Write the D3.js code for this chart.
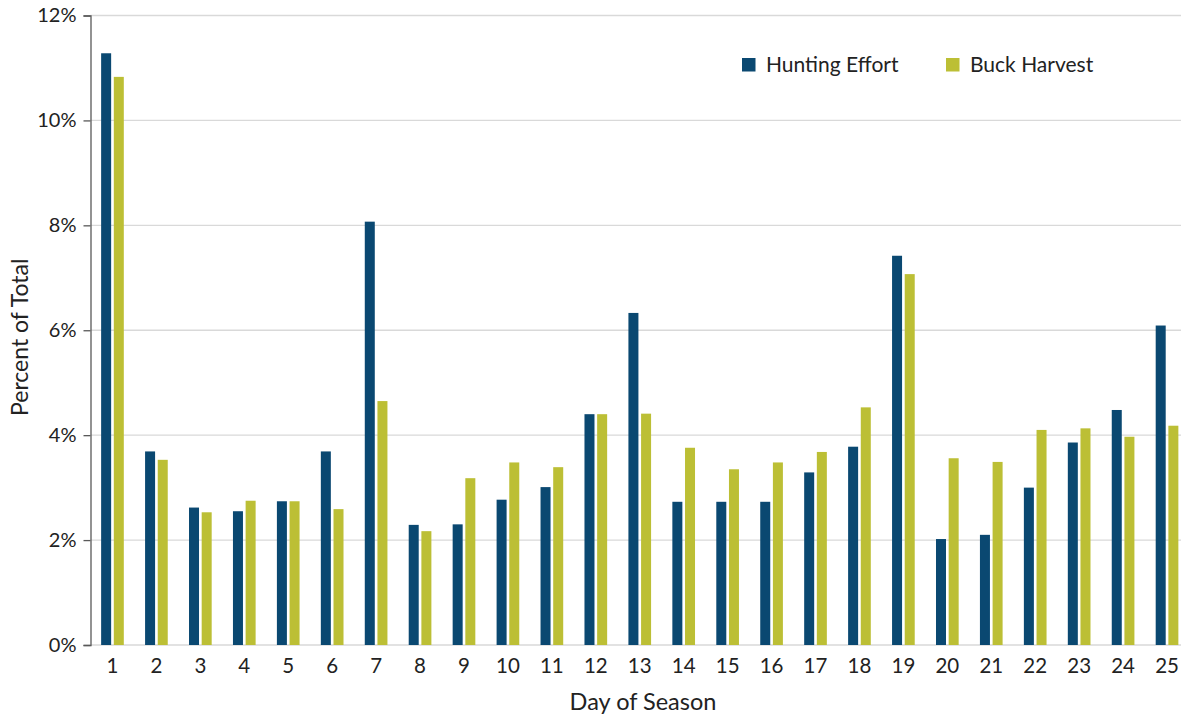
<!DOCTYPE html>
<html>
<head>
<meta charset="utf-8">
<script src="https://cdn.jsdelivr.net/npm/d3@7"></script>
<style>
  body { margin: 0; overflow: hidden; background: #fff; }
  svg { display: block; font-family: Lato, "Open Sans", sans-serif; }
</style>
</head>
<body>
<svg></svg>
<script>
// data (percent of total)
const days = d3.range(1, 26).map(String)
const seriesNames = ['Hunting Effort', 'Buck Harvest']
const huntingEffort = [11.28, 3.69, 2.62, 2.55, 2.74, 3.69, 8.07, 2.29, 2.30, 2.77, 3.01, 4.40, 6.33, 2.73, 2.73, 2.73, 3.29, 3.78, 7.42, 2.02, 2.10, 3.00, 3.86, 4.48, 6.09]
const buckHarvest = [10.83, 3.53, 2.53, 2.75, 2.74, 2.59, 4.65, 2.17, 3.18, 3.48, 3.39, 4.40, 4.41, 3.76, 3.35, 3.48, 3.68, 4.53, 7.07, 3.56, 3.49, 4.10, 4.13, 3.97, 4.18]
const yTicks = [0, 2, 4, 6, 8, 10, 12]

const colors = ['#0a4871', '#bcbf35']

const w = 1181
const h = 716
const plotLeft = 90.5
const plotRight = 1189
const plotTop = 15.5
const plotBottom = 645

const svg = d3.select('svg')
  .attr('width', w)
  .attr('height', h)

const rows = days.map((d, i) => ({ day: d, values: [huntingEffort[i], buckHarvest[i]] }))

// scales
const x0 = d3.scaleBand()
  .domain(days)
  .range([plotLeft, plotRight])

const x1 = d3.scaleBand()
  .domain(seriesNames)
  .range([0, x0.bandwidth()])
  .paddingInner(0.21)
  .paddingOuter(0.84)

const y = d3.scaleLinear()
  .domain([0, 12])
  .range([plotBottom, plotTop])

// gridlines
svg.append('g')
  .selectAll('line')
  .data(yTicks)
  .enter()
  .append('line')
  .attr('x1', plotLeft)
  .attr('x2', w)
  .attr('y1', d => y(d))
  .attr('y2', d => y(d))
  .attr('stroke', '#d9d9d9')
  .attr('stroke-width', 1.3)

// bars
const groups = svg.append('g')
  .selectAll('g')
  .data(rows)
  .enter()
  .append('g')
  .attr('transform', d => `translate(${x0(d.day)},0)`)

groups.selectAll('rect')
  .data(d => d.values.map((v, i) => ({ key: seriesNames[i], value: v, i })))
  .enter()
  .append('rect')
  .attr('x', d => x1(d.key))
  .attr('width', x1.bandwidth())
  .attr('y', d => y(d.value))
  .attr('height', d => y(0) - y(d.value))
  .attr('fill', d => colors[d.i])

// y axis
const yAxis = d3.axisLeft(y)
  .tickValues(yTicks)
  .tickSize(7)
  .tickPadding(7)
  .tickFormat(d => d + '%')

const yG = svg.append('g')
  .attr('transform', `translate(${plotLeft},0)`)
  .call(yAxis)
yG.select('.domain').attr('stroke', '#595959').attr('stroke-width', 1.3)
yG.selectAll('.tick line').attr('stroke', '#595959').attr('stroke-width', 1.3)
yG.selectAll('.tick text')
  .attr('fill', '#222')
  .style('font-size', '20px')
  .style('font-family', 'Lato, "Open Sans", sans-serif')

// x axis
const xAxis = d3.axisBottom(x0)
  .tickSize(0)
  .tickPadding(13)

const xG = svg.append('g')
  .attr('transform', `translate(0,${plotBottom})`)
  .call(xAxis)
xG.select('.domain').remove()
xG.selectAll('.tick text')
  .attr('fill', '#222')
  .style('font-size', '20.5px')
  .style('font-family', 'Lato, "Open Sans", sans-serif')

// axis titles
svg.append('text')
  .attr('text-anchor', 'middle')
  .attr('x', 643)
  .attr('y', 710)
  .attr('fill', '#222')
  .style('font-size', '23.5px')
  .text('Day of Season')

svg.append('text')
  .attr('text-anchor', 'middle')
  .attr('transform', `translate(28, ${(plotTop + plotBottom) / 2 + 7}) rotate(-90)`)
  .attr('fill', '#222')
  .style('font-size', '23px')
  .text('Percent of Total')

// legend
const legendX = [742, 946]
const legend = svg.selectAll('.legend')
  .data(seriesNames)
  .enter()
  .append('g')
  .attr('class', 'legend')
  .attr('transform', (d, i) => `translate(${legendX[i]}, 58)`)

legend.append('rect')
  .attr('width', 13.5)
  .attr('height', 13.5)
  .attr('fill', (d, i) => colors[i])

legend.append('text')
  .attr('x', 24)
  .attr('y', 14)
  .attr('fill', '#222')
  .style('font-size', '21px')
  .text(d => d)
</script>
</body>
</html>
